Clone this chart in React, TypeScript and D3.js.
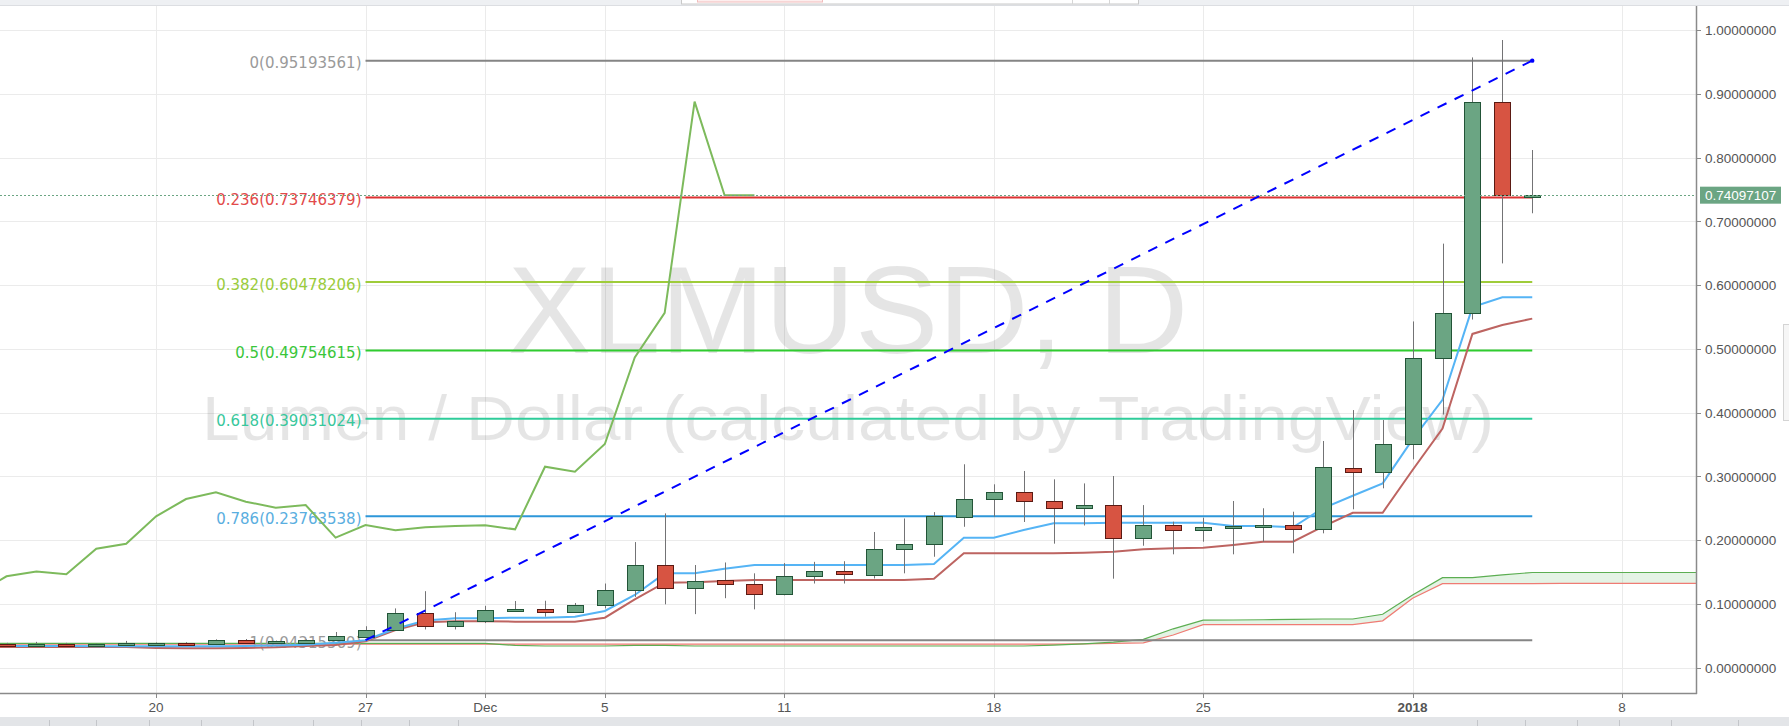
import React from "react";
import * as d3 from "d3";

// ---------- DATA ----------
const DAYS = [
  "2017-11-14","2017-11-15","2017-11-16","2017-11-17","2017-11-18","2017-11-19","2017-11-20",
  "2017-11-21","2017-11-22","2017-11-23","2017-11-24","2017-11-25","2017-11-26","2017-11-27",
  "2017-11-28","2017-11-29","2017-11-30",
  "2017-12-01","2017-12-02","2017-12-03","2017-12-04","2017-12-05","2017-12-06","2017-12-07",
  "2017-12-08","2017-12-09","2017-12-10","2017-12-11","2017-12-12","2017-12-13","2017-12-14",
  "2017-12-15","2017-12-16","2017-12-17","2017-12-18","2017-12-19","2017-12-20","2017-12-21",
  "2017-12-22","2017-12-23","2017-12-24","2017-12-25","2017-12-26","2017-12-27","2017-12-28",
  "2017-12-29","2017-12-30","2017-12-31",
  "2018-01-01","2018-01-02","2018-01-03","2018-01-04","2018-01-05","2018-01-06","2018-01-07",
  "2018-01-08","2018-01-09","2018-01-10","2018-01-11"
];

// candles Nov 15 .. Jan 5
const candleDates = DAYS.slice(1, 53);
const opens = [
  0.0375, 0.0365, 0.0375, 0.0362, 0.0365, 0.0372, 0.0385, 0.036, 0.0434, 0.0405, 0.0395, 0.043, 0.0486, 0.0586, 0.085, 0.065,
  0.0727, 0.0905, 0.0926, 0.0874, 0.0978, 0.1214, 0.161, 0.125, 0.1375, 0.1317, 0.115, 0.143, 0.151, 0.1465, 0.186, 0.194,
  0.2368, 0.264, 0.275, 0.2614, 0.2504, 0.255, 0.2039, 0.2238, 0.2155, 0.221, 0.2222, 0.2238, 0.218, 0.3136, 0.3074,
  0.3514, 0.4865, 0.5565, 0.8876, 0.7405
];
const highs = [
  0.039, 0.0405, 0.039, 0.038, 0.042, 0.0395, 0.04, 0.0445, 0.045, 0.0425, 0.0445, 0.056, 0.065, 0.093, 0.12, 0.087,
  0.097, 0.1046, 0.105, 0.1015, 0.132, 0.197, 0.242, 0.161, 0.165, 0.148, 0.164, 0.166, 0.167, 0.2128, 0.234, 0.244,
  0.319, 0.2876, 0.3085, 0.2954, 0.289, 0.3006, 0.255, 0.229, 0.2352, 0.2614, 0.25, 0.2446, 0.3555, 0.404, 0.3884,
  0.543, 0.665, 0.957, 0.9843, 0.8118
];
const lows = [
  0.035, 0.0355, 0.035, 0.0352, 0.036, 0.036, 0.036, 0.0355, 0.038, 0.039, 0.038, 0.0425, 0.047, 0.0575, 0.06, 0.06,
  0.07, 0.089, 0.08, 0.0865, 0.093, 0.111, 0.0994, 0.084, 0.109, 0.0915, 0.1135, 0.132, 0.132, 0.14, 0.148, 0.174,
  0.221, 0.237, 0.2285, 0.1945, 0.223, 0.1396, 0.1913, 0.1778, 0.1976, 0.1778, 0.1976, 0.1794, 0.2107, 0.2484, 0.2813,
  0.3268, 0.397, 0.546, 0.634, 0.7126
];
const closes = [
  0.0365, 0.0375, 0.0362, 0.037, 0.0385, 0.0382, 0.0368, 0.043, 0.039, 0.0415, 0.0435, 0.049, 0.059, 0.085, 0.065, 0.0727,
  0.09, 0.0918, 0.088, 0.0988, 0.1214, 0.161, 0.1255, 0.1355, 0.131, 0.1156, 0.1433, 0.151, 0.1465, 0.1866, 0.1944, 0.2374,
  0.2645, 0.275, 0.2603, 0.2509, 0.255, 0.2039, 0.2238, 0.2155, 0.2202, 0.2222, 0.2232, 0.217, 0.3152, 0.3074, 0.3508,
  0.4864, 0.5565, 0.8876, 0.7413, 0.74097107
];

// Ichimoku conversion / base lines, Nov 14 .. Jan 5
const lineDates = DAYS.slice(0, 53);
const tenkan = [
  0.034, 0.034, 0.034, 0.034, 0.0335, 0.0335, 0.0335, 0.0335, 0.0335, 0.034, 0.035, 0.036, 0.039, 0.043, 0.061, 0.074, 0.0775,
  0.0775, 0.0784, 0.0784, 0.08, 0.089, 0.114, 0.148, 0.148, 0.155, 0.161, 0.161, 0.161, 0.161, 0.161, 0.161, 0.1626,
  0.2039, 0.2039, 0.216, 0.2264, 0.2264, 0.2274, 0.2274, 0.2274, 0.2274, 0.2222, 0.2222, 0.2202, 0.25, 0.2697, 0.289,
  0.358, 0.42, 0.5655, 0.5808, 0.5808
];
const kijun = [
  0.0325, 0.0325, 0.0325, 0.0325, 0.0325, 0.0325, 0.031, 0.0305, 0.0305, 0.031, 0.032, 0.034, 0.0356, 0.0414, 0.059, 0.0712, 0.0727,
  0.0727, 0.0722, 0.0722, 0.0722, 0.0784, 0.107, 0.1333, 0.134, 0.136, 0.1375, 0.1375, 0.1375, 0.1375, 0.1375, 0.1375, 0.1396,
  0.1794, 0.1794, 0.1794, 0.1794, 0.1803, 0.1819, 0.1857, 0.1872, 0.1882, 0.1924, 0.1976, 0.1976, 0.2211, 0.243, 0.243,
  0.31, 0.375, 0.5234, 0.5374, 0.5474
];

// lagging span, Nov 14 .. Dec 10
const laggingDates = DAYS.slice(0, 27);
const lagging = [
  0.1156, 0.1433, 0.151, 0.1465, 0.1866, 0.1944, 0.2374, 0.2645, 0.275, 0.2603, 0.2509, 0.255, 0.2039, 0.2238, 0.2155,
  0.2202, 0.2222, 0.2232, 0.217, 0.3152, 0.3074, 0.3508, 0.4864, 0.5565, 0.8876, 0.7413, 0.74097107
];

// cloud, Nov 14 .. Jan 11
const cloudDates = DAYS;
const senkouA = [
  0.038, 0.038, 0.038, 0.038, 0.038, 0.038, 0.038, 0.038, 0.038, 0.038, 0.038, 0.038, 0.038, 0.038, 0.038, 0.038, 0.038,
  0.038, 0.035, 0.034, 0.034, 0.034, 0.035, 0.035, 0.034, 0.034, 0.034, 0.034, 0.034, 0.034, 0.034, 0.034, 0.034,
  0.034, 0.034, 0.034, 0.0355, 0.0375, 0.04, 0.0445, 0.061, 0.0745, 0.0748, 0.0752, 0.0758, 0.0764, 0.0764, 0.0838,
  0.114, 0.1412, 0.1412, 0.1455, 0.1493, 0.1493, 0.1493, 0.1493, 0.1493, 0.1493, 0.1493
];
const senkouB = [
  0.037, 0.037, 0.037, 0.037, 0.037, 0.037, 0.037, 0.037, 0.037, 0.037, 0.037, 0.037, 0.037, 0.037, 0.037, 0.037, 0.037,
  0.037, 0.037, 0.037, 0.037, 0.037, 0.037, 0.037, 0.037, 0.037, 0.037, 0.037, 0.037, 0.037, 0.037, 0.037, 0.037,
  0.037, 0.037, 0.037, 0.037, 0.0375, 0.038, 0.039, 0.0513, 0.0675, 0.0675, 0.0675, 0.0675, 0.0675, 0.0675, 0.0735,
  0.109, 0.1318, 0.1318, 0.1318, 0.1318, 0.1322, 0.1322, 0.1322, 0.1322, 0.1322, 0.1322
];

// Fibonacci retracement
const fibRatios = ["0", "0.236", "0.382", "0.5", "0.618", "0.786", "1"];
const fibPrices = [0.95193561, 0.73746379, 0.60478206, 0.49754615, 0.39031024, 0.23763538, 0.04315569];
const fibStart = "2017-11-27";
const fibEnd = "2018-01-05";
const lastPrice = 0.74097107;

const yTicks = [0, 0.1, 0.2, 0.3, 0.4, 0.5, 0.6, 0.7, 0.8, 0.9, 1.0];
const xTickDates = ["2017-11-20", "2017-11-27", "2017-12-01", "2017-12-05", "2017-12-11", "2017-12-18", "2017-12-25", "2018-01-01", "2018-01-08"];
const xTickLabels = ["20", "27", "Dec", "5", "11", "18", "25", "2018", "8"];

// ---------- STYLE ----------
const W = 1789, H = 726;
const PLOT_R = 1696, PLOT_T = 5, PLOT_B = 693;
const UP = "#6ba583", DOWN = "#d75442", UP_B = "#225437", DOWN_B = "#5b1a13", WICK = "#737375";
const fibLineColors = ["#858585", "#dd3333", "#9fcc3a", "#2fcc2f", "#2fcc9a", "#2e97d9", "#858585"];
const fibLabelColors = ["#9a9a9a", "#e24a4a", "#9acb3c", "#3ac63a", "#38c79c", "#5aaee0", "#9a9a9a"];

const parse = d3.utcParse("%Y-%m-%d");

export default function App() {
  const x = d3.scaleUtc()
    .domain([parse("2017-11-20")!, parse("2018-01-08")!])
    .range([156.1, 1622]);
  const y = d3.scaleLinear().domain([0, 1]).range([667.7, 30]);
  const X = (s: string) => x(parse(s)!);

  const mkLine = (dates: string[], vals: number[]) =>
    d3.line<number>().x((_, i) => X(dates[i])).y((v) => y(v))(vals) || "";

  const areaGreen = d3.area<number>()
    .x((_, i) => X(cloudDates[i]))
    .y0((_, i) => y(senkouB[i]))
    .y1((_, i) => y(Math.max(senkouA[i], senkouB[i])))(senkouA) || "";
  const areaRed = d3.area<number>()
    .x((_, i) => X(cloudDates[i]))
    .y0((_, i) => y(senkouA[i]))
    .y1((_, i) => y(Math.max(senkouA[i], senkouB[i])))(senkouA) || "";

  const fx0 = X(fibStart), fx1 = X(fibEnd);
  const yp = y(lastPrice);
  const font = "'Liberation Sans', Arial, sans-serif";

  return (
    <svg width={W} height={H} style={{ display: "block", position: "absolute", left: 0, top: 0 }}
      xmlns="http://www.w3.org/2000/svg">
      <defs>
        <clipPath id="plot"><rect x={0} y={PLOT_T} width={PLOT_R} height={PLOT_B - PLOT_T} /></clipPath>
      </defs>
      <rect x={0} y={0} width={W} height={H} fill="#ffffff" />

      {/* grid */}
      <g stroke="#ebebeb" strokeWidth={1}>
        {yTicks.map((t) => (
          <line key={"gy" + t} x1={0} x2={PLOT_R} y1={Math.round(y(t)) + 0.5} y2={Math.round(y(t)) + 0.5} />
        ))}
        {xTickDates.map((d) => (
          <line key={"gx" + d} x1={Math.round(X(d)) + 0.5} x2={Math.round(X(d)) + 0.5} y1={PLOT_T} y2={PLOT_B} />
        ))}
      </g>

      {/* watermark */}
      <g fill="#000" fillOpacity={0.1} fontFamily={font} textAnchor="middle">
        <text x={848} y={353} fontSize={125}>XLMUSD, D</text>
        <text x={848} y={440} fontSize={63} textLength={1292} lengthAdjust="spacingAndGlyphs">Lumen / Dollar (calculated by TradingView)</text>
      </g>

      <g clipPath="url(#plot)">
        {/* cloud */}
        <path d={areaGreen} fill="#4caf50" fillOpacity={0.15} />
        <path d={areaRed} fill="#f44336" fillOpacity={0.1} />
        <path d={mkLine(cloudDates, senkouB)} fill="none" stroke="#ef7b74" strokeWidth={1.2} />
        <path d={mkLine(cloudDates, senkouA)} fill="none" stroke="#5cae52" strokeWidth={1.2} />

        {/* fib levels */}
        {fibPrices.map((p, i) => (
          <g key={"fib" + i}>
            <line x1={fx0} x2={fx1} y1={y(p)} y2={y(p)} stroke={fibLineColors[i]} strokeWidth={2} />
            <text x={fx0 - 4} y={y(p) + 7.5} textAnchor="end" fontFamily="'DejaVu Sans', Verdana, sans-serif"
              fontSize={15} fill={fibLabelColors[i]}>{`${fibRatios[i]}(${p.toFixed(8)})`}</text>
          </g>
        ))}

        {/* ichimoku lines */}
        <path d={mkLine(laggingDates, lagging)} fill="none" stroke="#7dba5c" strokeWidth={2} />
        <path d={mkLine(lineDates, kijun)} fill="none" stroke="#bd6461" strokeWidth={2} />
        <path d={mkLine(lineDates, tenkan)} fill="none" stroke="#55b4f5" strokeWidth={2} />

        {/* candles */}
        {candleDates.map((d, i) => {
          const cx = Math.round(X(d));
          const o = opens[i], c = closes[i];
          const up = c >= o;
          const yo = y(o), yc = y(c);
          const top = Math.round(Math.min(yo, yc));
          const h = Math.max(2, Math.round(Math.abs(yo - yc)));
          return (
            <g key={"c" + d}>
              <line x1={cx + 0.5} x2={cx + 0.5} y1={y(highs[i])} y2={y(lows[i])} stroke={WICK} strokeWidth={1} />
              <rect x={cx - 7.5} y={top + 0.5} width={16} height={h} fill={up ? UP : DOWN}
                stroke={up ? UP_B : DOWN_B} strokeWidth={1} />
            </g>
          );
        })}

        {/* trend line */}
        <line x1={fx0} y1={y(fibPrices[6])} x2={fx1} y2={y(fibPrices[0])} stroke="#0000ff" strokeWidth={2}
          strokeDasharray="10 9" />
        <circle cx={fx1} cy={y(fibPrices[0])} r={2.2} fill="#0000ff" />

        {/* last price line */}
        <line x1={0} x2={PLOT_R} y1={Math.round(yp) + 0.5} y2={Math.round(yp) + 0.5} stroke={UP} strokeWidth={1}
          strokeDasharray="2 2" />
      </g>

      {/* axes */}
      <line x1={PLOT_R + 0.5} x2={PLOT_R + 0.5} y1={PLOT_T} y2={PLOT_B + 1} stroke="#8a8a8a" strokeWidth={1.5} />
      <line x1={0} x2={PLOT_R + 1} y1={PLOT_B + 0.5} y2={PLOT_B + 0.5} stroke="#8a8a8a" strokeWidth={1.5} />

      <g fontFamily={font} fontSize={13.5} fill="#555">
        {yTicks.map((t) => (
          <g key={"yt" + t}>
            <line x1={PLOT_R} x2={PLOT_R + 5} y1={Math.round(y(t)) + 0.5} y2={Math.round(y(t)) + 0.5} stroke="#8a8a8a" />
            <text x={1705} y={y(t) + 5.3}>{t.toFixed(8)}</text>
          </g>
        ))}
        {xTickDates.map((d, i) => (
          <g key={"xt" + d}>
            <line x1={Math.round(X(d)) + 0.5} x2={Math.round(X(d)) + 0.5} y1={PLOT_B} y2={PLOT_B + 5} stroke="#8a8a8a" />
            <text x={X(d)} y={712} textAnchor="middle" fontWeight={xTickLabels[i] === "2018" ? "bold" : "normal"}>
              {xTickLabels[i]}
            </text>
          </g>
        ))}
      </g>

      {/* last price label */}
      <rect x={1700} y={yp - 8.5} width={81} height={17} fill={UP} />
      <text x={1705} y={yp + 5} fontFamily={font} fontSize={13.5} fill="#fff">{lastPrice.toFixed(8)}</text>

      {/* top band + legend box */}
      <rect x={0} y={0} width={W} height={5} fill="#eef0f3" />
      <line x1={0} x2={W} y1={5.5} y2={5.5} stroke="#dcdee2" />
      <rect x={681.5} y={-3} width={457} height={7} fill="#fff" stroke="#c9c9c9" />
      <rect x={697.5} y={-3} width={125} height={5} fill="#fdeeee" stroke="#f1bcbc" />
      <line x1={1072.5} x2={1072.5} y1={0} y2={4} stroke="#d6d6d6" />
      <line x1={1109.5} x2={1109.5} y1={0} y2={4} stroke="#d6d6d6" />

      {/* right tab */}
      <rect x={1783.5} y={324.5} width={8} height={96} fill="#f6f6f6" stroke="#d4d4d4" />

      {/* bottom toolbar */}
      <rect x={0} y={717} width={W} height={9} fill="#e3e5e8" />
      <g stroke="#c4c6ca">
        {[49, 96, 149, 201, 253, 313, 361, 409, 458, 1477, 1525, 1577, 1619, 1671, 1738].map((v) => (
          <line key={"tb" + v} x1={v + 0.5} x2={v + 0.5} y1={720} y2={726} />
        ))}
      </g>
    </svg>
  );
}
